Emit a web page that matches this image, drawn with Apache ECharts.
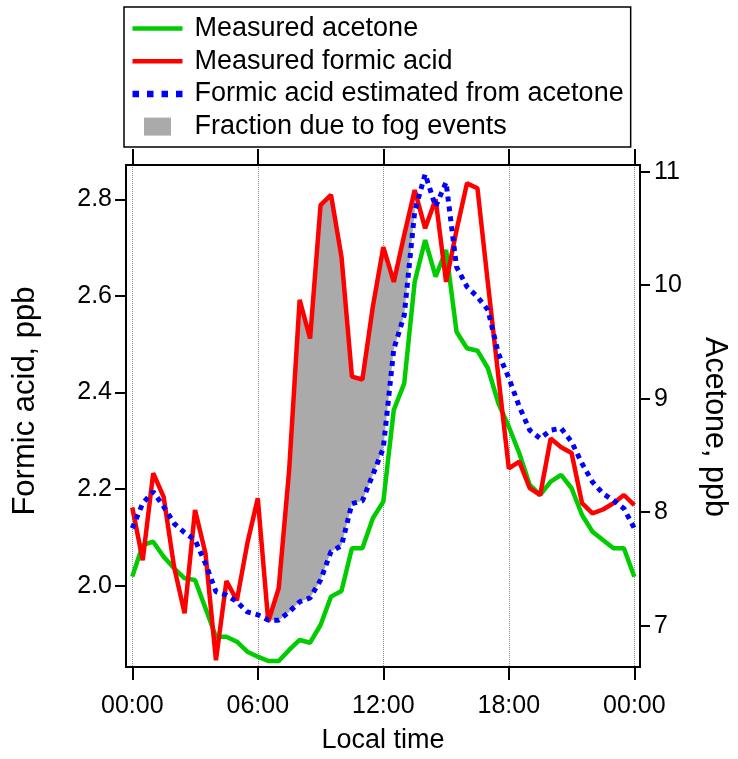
<!DOCTYPE html>
<html><head><meta charset="utf-8">
<script src="https://cdn.jsdelivr.net/npm/echarts@6/dist/echarts.min.js"></script>
<style>html,body{margin:0;padding:0;background:#fff}#c{width:738px;height:759px}</style>
</head><body><div id="c"></div>
<script>
// ---- data (half-hourly, local time in hours) ----
const hours = [0,0.5,1,1.5,2,2.5,3,3.5,4,4.5,5,5.5,6,6.5,7,7.5,8,8.5,9,9.5,10,10.5,11,11.5,12,12.5,13,13.5,14,14.5,15,15.5,16,16.5,17,17.5,18,18.5,19,19.5,20,20.5,21,21.5,22,22.5,23,23.5,24];
const formicMeasured = [2.162,2.053,2.233,2.184,2.039,1.943,2.157,2.067,1.846,2.010,1.970,2.088,2.181,1.926,1.995,2.240,2.592,2.512,2.788,2.809,2.681,2.433,2.427,2.578,2.701,2.629,2.726,2.819,2.740,2.800,2.629,2.736,2.833,2.823,2.626,2.433,2.243,2.257,2.202,2.188,2.305,2.287,2.275,2.171,2.150,2.158,2.171,2.188,2.167];
const acetoneMeasured = [7.432,7.711,7.740,7.608,7.505,7.417,7.403,7.153,6.903,6.903,6.859,6.771,6.727,6.689,6.689,6.786,6.874,6.850,7.006,7.256,7.306,7.682,7.682,7.946,8.093,8.900,9.135,10.031,10.398,10.075,10.310,9.590,9.444,9.423,9.268,8.960,8.753,8.519,8.240,8.152,8.269,8.328,8.211,7.975,7.828,7.755,7.682,7.682,7.432];
const formicEstimated = [2.119,2.171,2.195,2.164,2.129,2.110,2.095,2.046,1.988,1.981,1.967,1.946,1.940,1.929,1.929,1.946,1.967,1.975,2.012,2.071,2.083,2.170,2.176,2.230,2.285,2.490,2.560,2.775,2.852,2.785,2.835,2.660,2.619,2.598,2.571,2.481,2.430,2.371,2.322,2.305,2.322,2.326,2.298,2.253,2.215,2.191,2.177,2.160,2.119];
const fogStartHour = 6.5;
const fogEndHour = 13.5;
const xTicks = [0, 6, 12, 18, 24];
const xTickLabels = ['00:00', '06:00', '12:00', '18:00', '00:00'];
const formicTicks = [2.0, 2.2, 2.4, 2.6, 2.8];
const acetoneTicks = [7, 8, 9, 10, 11];

const FONT = 'Liberation Sans';
const pairs = (vals) => hours.map((h, i) => [h, vals[i]]);
const fogIdx = hours.map((h, i) => i).filter(i => hours[i] >= fogStartHour && hours[i] <= fogEndHour);
const fogData = fogIdx.map(i => [hours[i], formicMeasured[i], formicEstimated[i]]);

const chart = echarts.init(document.getElementById('c'), null, {renderer: 'canvas'});
const axisLineStyle = {color: '#000', width: 2};
chart.setOption({
  animation: false,
  textStyle: {fontFamily: FONT, color: '#000'},
  grid: {left: 126, right: 97, top: 165, bottom: 92, containLabel: false},
  legend: {
    left: 124, top: 7, orient: 'vertical',
    padding: [8, 7, 7, 8.5],
    borderColor: '#000', borderWidth: 1.5,
    itemWidth: 50, itemHeight: 18, itemGap: 5.7,
    symbolKeepAspect: true,
    selectedMode: false,
    textStyle: {fontFamily: FONT, fontSize: 27, color: '#000', padding: [0, 0, 0, 7]},
    data: [
      {name: 'Measured acetone', icon: 'path://M0,0H50V4.5H0Z'},
      {name: 'Measured formic acid', icon: 'path://M0,0H50V4.5H0Z'},
      {name: 'Formic acid estimated from acetone', icon: 'path://M0,0h6.5v6.5h-6.5zM14.5,0h6.5v6.5h-6.5zM29,0h6.5v6.5h-6.5zM43.5,0h6.5v6.5h-6.5z'},
      {name: 'Fraction due to fog events', icon: 'path://M0,0h27v18h-27z'}
    ]
  },
  xAxis: [{
    type: 'value', position: 'bottom', min: -0.3, max: 24.27,
    name: 'Local time', nameLocation: 'middle', nameGap: 60,
    nameTextStyle: {fontFamily: FONT, fontSize: 27, color: '#000'},
    axisLine: {show: true, onZero: false, lineStyle: axisLineStyle},
    axisTick: {show: true, inside: false, length: 13, lineStyle: axisLineStyle, customValues: xTicks},
    axisLabel: {show: true, margin: 27, fontFamily: FONT, fontSize: 25, color: '#000', customValues: xTicks,
      formatter: (v) => xTickLabels[xTicks.indexOf(v)] || ''},
    splitLine: {show: true, lineStyle: {type: 'dotted', color: '#888', width: 1}}
  }, {
    type: 'value', position: 'top', min: -0.3, max: 24.27,
    axisLine: {show: true, onZero: false, lineStyle: axisLineStyle},
    axisTick: {show: true, inside: false, length: 16, lineStyle: axisLineStyle, customValues: xTicks},
    axisLabel: {show: false},
    splitLine: {show: false}
  }],
  yAxis: [{
    type: 'value', position: 'left', min: 1.832, max: 2.871,
    name: 'Formic acid, ppb', nameLocation: 'middle', nameGap: 85,
    nameTextStyle: {fontFamily: FONT, fontSize: 31, color: '#000', padding: [0, 0, 0, 30]},
    axisLine: {show: true, onZero: false, lineStyle: axisLineStyle},
    axisTick: {show: true, inside: false, length: 11, lineStyle: axisLineStyle, customValues: formicTicks},
    axisLabel: {show: true, margin: 14, fontFamily: FONT, fontSize: 25, color: '#000', customValues: formicTicks,
      formatter: (v) => v.toFixed(1)},
    splitLine: {show: false}
  }, {
    type: 'value', position: 'right', min: 6.636, max: 11.059,
    name: 'Acetone, ppb', nameLocation: 'middle', nameGap: 59, nameRotate: -90,
    nameTextStyle: {fontFamily: FONT, fontSize: 30.5, color: '#000', padding: [0, 0, 0, 22]},
    axisLine: {show: true, onZero: false, lineStyle: axisLineStyle},
    axisTick: {show: true, inside: false, length: 10, lineStyle: axisLineStyle, customValues: acetoneTicks},
    axisLabel: {show: true, margin: 14, fontFamily: FONT, fontSize: 25, color: '#000', customValues: acetoneTicks,
      formatter: (v) => String(v)},
    splitLine: {show: false}
  }],
  series: [
    {name: 'Fraction due to fog events', type: 'custom', xAxisIndex: 0, yAxisIndex: 0, data: fogData,
     silent: true, color: '#aaaaaa', itemStyle: {color: '#aaaaaa'}, z: 1,
     encode: {x: 0, y: [1, 2]},
     renderItem: function (params, api) {
       if (params.dataIndex !== 0) return null;
       const top = fogData.map(d => api.coord([d[0], d[1]]));
       const bottom = fogData.slice().reverse().map(d => api.coord([d[0], d[2]]));
       return {type: 'polygon', shape: {points: top.concat(bottom)}, style: {fill: '#aaaaaa', stroke: null}};
     }},
    {name: 'Measured acetone', type: 'line', xAxisIndex: 0, yAxisIndex: 1, data: pairs(acetoneMeasured),
     showSymbol: false, symbol: 'none', color: '#00cc00', lineStyle: {color: '#00cc00', width: 4.5}, z: 2},
    {name: 'Measured formic acid', type: 'line', xAxisIndex: 0, yAxisIndex: 0, data: pairs(formicMeasured),
     showSymbol: false, symbol: 'none', color: '#ff0000', lineStyle: {color: '#ff0000', width: 4.5}, z: 3},
    {name: 'Formic acid estimated from acetone', type: 'line', xAxisIndex: 0, yAxisIndex: 0, data: pairs(formicEstimated),
     showSymbol: false, symbol: 'none', color: '#0000ff', lineStyle: {color: '#0000ff', width: 5, type: [5, 5]}, z: 4}
  ]
});
</script>
</body></html>
